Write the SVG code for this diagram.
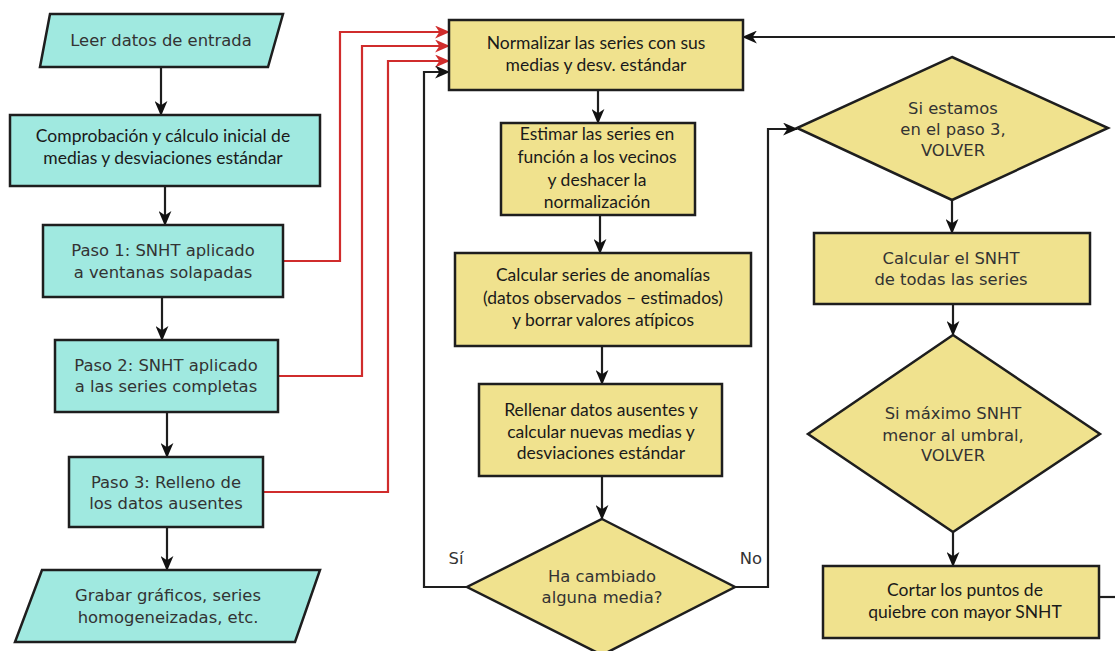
<svg xmlns="http://www.w3.org/2000/svg" width="1115" height="651" viewBox="0 0 1115 651">
<defs>
<style>
.teal{fill:#a0e9e0;stroke:#1e1e1e;stroke-width:2.5}
.yel{fill:#f0e28e;stroke:#1e1e1e;stroke-width:2.5}
.dv{font-family:"DejaVu Sans",sans-serif;font-size:16.4px;fill:#333;text-anchor:middle}
.cb{font-family:Lato,"Liberation Sans",sans-serif;font-size:17.5px;font-weight:400;fill:#1a1a1a;text-anchor:middle}
.ln{fill:none;stroke:#1e1e1e;stroke-width:2.2}
.red{fill:none;stroke:#d02c2c;stroke-width:2.2}
</style>
<marker id="ab" viewBox="0 0 14 12" refX="13" refY="6" markerWidth="15" markerHeight="13" markerUnits="userSpaceOnUse" orient="auto"><path d="M0,0 L14,6 L0,12 L4,6 z" fill="#111"/></marker>
<marker id="ar" viewBox="0 0 14 12" refX="13" refY="6" markerWidth="15" markerHeight="13" markerUnits="userSpaceOnUse" orient="auto"><path d="M0,0 L14,6 L0,12 L4,6 z" fill="#d02c2c"/></marker>
</defs>

<g id="connectors">
<path class="ln" d="M161,67 V115" marker-end="url(#ab)"/>
<path class="ln" d="M165,186 V225" marker-end="url(#ab)"/>
<path class="ln" d="M162,297 V340" marker-end="url(#ab)"/>
<path class="ln" d="M167,412 V457" marker-end="url(#ab)"/>
<path class="ln" d="M167,527 V570" marker-end="url(#ab)"/>
<path class="red" d="M283,261 H340 V32 H449" marker-end="url(#ar)"/>
<path class="red" d="M278,376 H362 V46 H449" marker-end="url(#ar)"/>
<path class="red" d="M263,492 H388 V61 H449" marker-end="url(#ar)"/>
<path class="ln" d="M467,587 H424 V72 H449" marker-end="url(#ab)"/>
<path class="ln" d="M598,90 V123" marker-end="url(#ab)"/>
<path class="ln" d="M600,215 V253" marker-end="url(#ab)"/>
<path class="ln" d="M602,346 V384" marker-end="url(#ab)"/>
<path class="ln" d="M602,476 V519" marker-end="url(#ab)"/>
<path class="ln" d="M735,587 H768 V129 H797" marker-end="url(#ab)"/>
<path class="ln" d="M952,200 V233" marker-end="url(#ab)"/>
<path class="ln" d="M953,304 V335" marker-end="url(#ab)"/>
<path class="ln" d="M953,532 V566" marker-end="url(#ab)"/>
<path class="ln" d="M1099,597 H1125"/>
<path class="ln" d="M1125,37 H743" marker-end="url(#ab)"/>
<text class="dv" x="456" y="564">Sí</text>
<text class="dv" x="751" y="564">No</text>
</g>

<g id="n-leer">
<polygon class="teal" points="50,14 283,14 268,67 40,67"/>
<text class="dv" x="161" y="46">Leer datos de entrada</text>
</g>
<g id="n-comprobacion">
<rect class="teal" x="10" y="115" width="310" height="71"/>
<text class="cb" x="163" y="142">Comprobación y cálculo inicial de</text>
<text class="cb" x="163" y="164">medias y desviaciones estándar</text>
</g>
<g id="n-paso1">
<rect class="teal" x="43" y="225" width="240" height="72"/>
<text class="dv" x="163" y="256">Paso 1: SNHT aplicado</text>
<text class="dv" x="163" y="278">a ventanas solapadas</text>
</g>
<g id="n-paso2">
<rect class="teal" x="55" y="340" width="223" height="72"/>
<text class="dv" x="166" y="371">Paso 2: SNHT aplicado</text>
<text class="dv" x="166" y="392">a las series completas</text>
</g>
<g id="n-paso3">
<rect class="teal" x="69" y="457" width="194" height="70"/>
<text class="dv" x="166" y="488">Paso 3: Relleno de</text>
<text class="dv" x="166" y="509">los datos ausentes</text>
</g>
<g id="n-grabar">
<polygon class="teal" points="42,570 320,570 295,642 15,642"/>
<text class="dv" x="168" y="601">Grabar gráficos, series</text>
<text class="dv" x="168" y="623">homogeneizadas, etc.</text>
</g>

<g id="n-normalizar">
<rect class="yel" x="449" y="20" width="294" height="70"/>
<text class="cb" x="596" y="49">Normalizar las series con sus</text>
<text class="cb" x="596" y="71">medias y desv. estándar</text>
</g>
<g id="n-estimar">
<rect class="yel" x="501" y="123" width="194" height="92"/>
<text class="cb" x="597" y="140">Estimar las series en</text>
<text class="cb" x="597" y="163">función a los vecinos</text>
<text class="cb" x="597" y="186">y deshacer la</text>
<text class="cb" x="597" y="208">normalización</text>
</g>
<g id="n-anomalias">
<rect class="yel" x="455" y="253" width="296" height="93"/>
<text class="cb" x="603" y="281">Calcular series de anomalías</text>
<text class="cb" x="603" y="304">(datos observados – estimados)</text>
<text class="cb" x="603" y="326">y borrar valores atípicos</text>
</g>
<g id="n-rellenar">
<rect class="yel" x="479" y="384" width="243" height="92"/>
<text class="cb" x="601" y="416">Rellenar datos ausentes y</text>
<text class="cb" x="601" y="438">calcular nuevas medias y</text>
<text class="cb" x="601" y="459">desviaciones estándar</text>
</g>
<g id="n-cambiado">
<polygon class="yel" points="602,519 735,587 602,655 467,587"/>
<text class="dv" x="602" y="582">Ha cambiado</text>
<text class="dv" x="602" y="603">alguna media?</text>
</g>

<g id="n-paso3check">
<polygon class="yel" points="952,57 1108,128 952,200 797,128"/>
<text class="dv" x="953" y="114">Si estamos</text>
<text class="dv" x="953" y="135">en el paso 3,</text>
<text class="dv" x="953" y="156">VOLVER</text>
</g>
<g id="n-calcsnht">
<rect class="yel" x="814" y="233" width="276" height="71"/>
<text class="dv" x="951" y="264">Calcular el SNHT</text>
<text class="dv" x="951" y="285">de todas las series</text>
</g>
<g id="n-maximo">
<polygon class="yel" points="953,335 1100,434 953,532 808,434"/>
<text class="dv" x="953" y="419">Si máximo SNHT</text>
<text class="dv" x="953" y="441">menor al umbral,</text>
<text class="dv" x="953" y="461">VOLVER</text>
</g>
<g id="n-cortar">
<rect class="yel" x="823" y="566" width="276" height="72"/>
<text class="cb" x="965" y="596">Cortar los puntos de</text>
<text class="cb" x="965" y="618">quiebre con mayor SNHT</text>
</g>
</svg>
